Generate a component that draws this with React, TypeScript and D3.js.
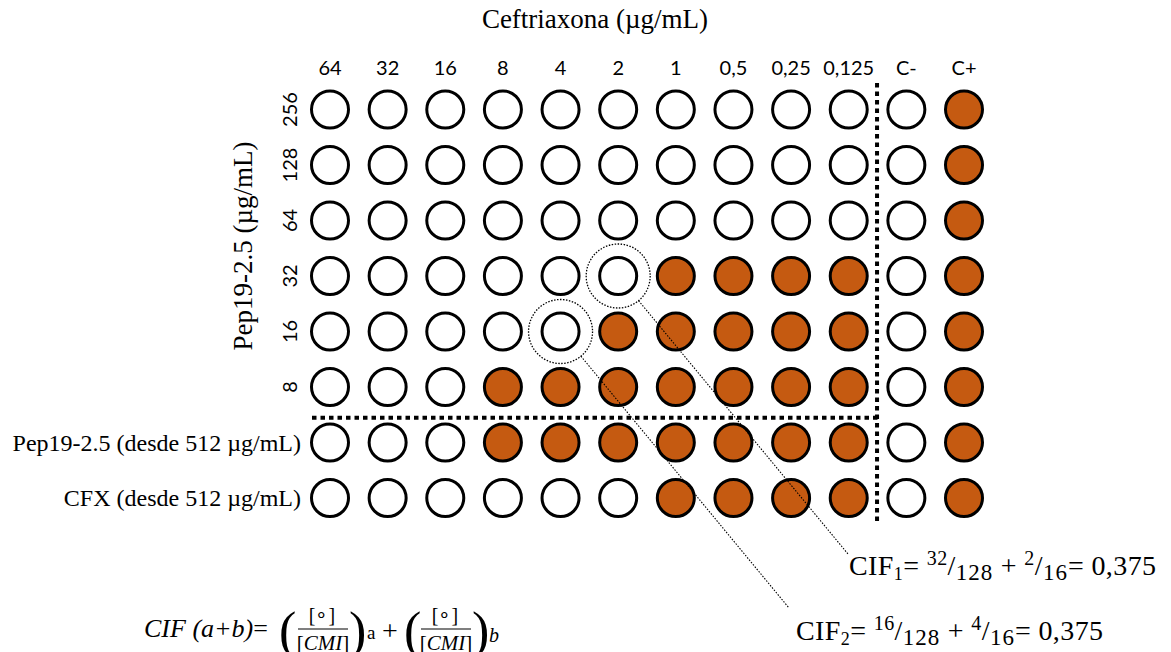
import React from "react";
import * as d3 from "d3";

// Ceftriaxone concentrations across the plate (µg/mL) plus controls
const colLabels = ["64", "32", "16", "8", "4", "2", "1", "0,5", "0,25", "0,125", "C-", "C+"];
// Pep19-2.5 concentrations in the checkerboard rows (µg/mL)
const peptideRows = ["256", "128", "64", "32", "16", "8"];
// Single-agent rows below the checkerboard
const singleRows = ["Pep19-2.5 (desde 512 µg/mL)", "CFX (desde 512 µg/mL)"];
const rowKeys = [...peptideRows, ...singleRows];

// 1 = bacterial growth (coloured well), 0 = no growth
const growth = [
  [0, 0, 0, 0, 0, 0, 0, 0, 0, 0, 0, 1],
  [0, 0, 0, 0, 0, 0, 0, 0, 0, 0, 0, 1],
  [0, 0, 0, 0, 0, 0, 0, 0, 0, 0, 0, 1],
  [0, 0, 0, 0, 0, 0, 1, 1, 1, 1, 0, 1],
  [0, 0, 0, 0, 0, 1, 1, 1, 1, 1, 0, 1],
  [0, 0, 0, 1, 1, 1, 1, 1, 1, 1, 0, 1],
  [0, 0, 0, 1, 1, 1, 1, 1, 1, 1, 0, 1],
  [0, 0, 0, 0, 0, 0, 1, 1, 1, 1, 0, 1],
];

// Wells used for the FIC calculations
const highlighted = [
  { row: "32", col: "2", label: "1" },
  { row: "16", col: "4", label: "2" },
];

const W = 1171;
const H = 652;
const ORANGE = "#C55A11";
const SERIF = "'Liberation Serif', 'Times New Roman', serif";
const SANS = "Lato, 'Open Sans', sans-serif";

function FicEquation(props: {
  x: number;
  y: number;
  idx: string;
  a: string;
  b: string;
}) {
  const { x, y, idx, a, b } = props;
  return (
    <text x={x} y={y} fontFamily={SERIF} fontSize={28} letterSpacing={0.4}>
      CIF<tspan fontSize={18} dy={5}>{idx}</tspan>
      <tspan dy={-5}>= </tspan>
      <tspan fontSize={20} dy={-10}>{a}</tspan>
      <tspan dy={10}>/</tspan>
      <tspan fontSize={23} dy={5} letterSpacing={1}>128</tspan>
      <tspan dy={-5}> + </tspan>
      <tspan fontSize={20} dy={-10}>{b}</tspan>
      <tspan dy={10}>/</tspan>
      <tspan fontSize={23} dy={5} letterSpacing={1}>16</tspan>
      <tspan dy={-5}>= 0,375</tspan>
    </text>
  );
}

export default function App() {
  const x = d3.scalePoint<string>().domain(colLabels).range([330, 964]);
  const y = d3.scalePoint<string>().domain(rowKeys).range([109.5, 498]);
  const r = 18.5;

  const cells: { key: string; cx: number; cy: number; on: boolean }[] = [];
  rowKeys.forEach((rk, i) => {
    colLabels.forEach((ck, j) => {
      cells.push({ key: `${rk}-${ck}`, cx: x(ck)!, cy: y(rk)!, on: growth[i][j] === 1 });
    });
  });

  // divider between test columns and controls, and between checkerboard and single agents
  const xDiv = (x("0,125")! + x("C-")!) / 2 - 0.5;
  const yDiv = (y("8")! + y(singleRows[0])!) / 2 + 3;

  // leader line ends near each FIC equation
  const leaderEnds = [
    { x: 848, y: 554 },
    { x: 789, y: 608 },
  ];
  const calloutR = 32;

  return (
    <svg
      width={W}
      height={H}
      style={{ position: "absolute", left: 0, top: 0, background: "#fff" }}
    >
      {/* title */}
      <text x={595} y={28} textAnchor="middle" fontFamily={SERIF} fontSize={27}>
        Ceftriaxona (µg/mL)
      </text>

      {/* column labels */}
      {colLabels.map((c) => (
        <text key={c} x={x(c)} y={75} textAnchor="middle" fontFamily={SANS} fontSize={20}>
          {c}
        </text>
      ))}

      {/* row labels (rotated) */}
      {peptideRows.map((rk) => (
        <text
          key={rk}
          transform={`translate(297,${y(rk)}) rotate(-90)`}
          textAnchor="middle"
          fontFamily={SANS}
          fontSize={20}
        >
          {rk}
        </text>
      ))}

      {/* y title */}
      <text
        transform={`translate(252,246) rotate(-90)`}
        textAnchor="middle"
        fontFamily={SERIF}
        fontSize={27}
      >
        Pep19-2.5 (µg/mL)
      </text>

      {/* single agent labels */}
      {singleRows.map((s) => (
        <text key={s} x={301} y={y(s)! + 8} textAnchor="end" fontFamily={SERIF} fontSize={24}>
          {s}
        </text>
      ))}

      {/* dividers */}
      <line
        x1={xDiv}
        x2={xDiv}
        y1={83}
        y2={521}
        stroke="#000"
        strokeWidth={4}
        strokeDasharray="4.5 4"
      />
      <line
        x1={312}
        x2={xDiv + 2}
        y1={yDiv}
        y2={yDiv}
        stroke="#000"
        strokeWidth={4}
        strokeDasharray="4.5 4"
      />

      {/* wells */}
      {cells.map((c) => (
        <circle
          key={c.key}
          cx={c.cx}
          cy={c.cy}
          r={r}
          fill={c.on ? ORANGE : "#fff"}
          stroke="#000"
          strokeWidth={3}
        />
      ))}

      {/* highlighted wells and leader lines */}
      {highlighted.map((h, i) => {
        const cx = x(h.col)!;
        const cy = y(h.row)!;
        const end = leaderEnds[i];
        const dx = end.x - cx;
        const dy = end.y - cy;
        const len = Math.hypot(dx, dy);
        return (
          <g key={h.label}>
            <circle
              cx={cx}
              cy={cy}
              r={calloutR}
              fill="none"
              stroke="#000"
              strokeWidth={1.3}
              strokeDasharray="1.5 1.5"
            />
            <line
              x1={cx + (dx / len) * calloutR}
              y1={cy + (dy / len) * calloutR}
              x2={end.x}
              y2={end.y}
              stroke="#000"
              strokeWidth={1.1}
              strokeDasharray="1.5 1.5"
            />
          </g>
        );
      })}

      {/* FIC equations */}
      <FicEquation x={849} y={575} idx="1" a="32" b="2" />
      <FicEquation x={796} y={640} idx="2" a="16" b="4" />

      {/* general FIC formula */}
      <g fontFamily={SERIF}>
        <text x={144} y={637} fontSize={26} fontStyle="italic">
          CIF (a+b)
          <tspan fontStyle="normal">=</tspan>
        </text>
        <text x={279} y={648} fontSize={52} fontWeight={300}>
          (
        </text>
        <text x={322} y={622} fontSize={20} textAnchor="middle">
          [∘]
        </text>
        <line x1={298} x2={348} y1={629} y2={629} stroke="#000" strokeWidth={1.2} />
        <text x={323} y={650} fontSize={21} textAnchor="middle">
          [<tspan fontStyle="italic">CMI</tspan>]
        </text>
        <text x={349} y={648} fontSize={52}>
          )
        </text>
        <text x={367} y={639} fontSize={19}>
          a
        </text>
        <text x={382} y={640} fontSize={28}>
          +
        </text>
        <text x={404} y={648} fontSize={52}>
          (
        </text>
        <text x={445} y={622} fontSize={20} textAnchor="middle">
          [∘]
        </text>
        <line x1={421} x2={471} y1={629} y2={629} stroke="#000" strokeWidth={1.2} />
        <text x={446} y={650} fontSize={21} textAnchor="middle">
          [<tspan fontStyle="italic">CMI</tspan>]
        </text>
        <text x={472} y={648} fontSize={52}>
          )
        </text>
        <text x={489} y={642} fontSize={20} fontStyle="italic">
          b
        </text>
      </g>
    </svg>
  );
}
